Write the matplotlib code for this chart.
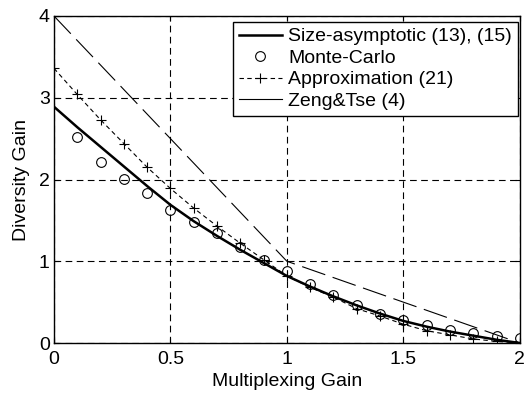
import numpy as np
import matplotlib.pyplot as plt

plt.rcParams['font.family'] = ['Liberation Sans', 'DejaVu Sans']

# multiplexing gain grid
r = [0.0, 0.1, 0.2, 0.3, 0.4, 0.5, 0.6, 0.7, 0.8, 0.9, 1.0,
     1.1, 1.2, 1.3, 1.4, 1.5, 1.6, 1.7, 1.8, 1.9, 2.0]

size_asym = [2.89, 2.64, 2.40, 2.16, 1.92, 1.69, 1.49, 1.31, 1.14, 0.98, 0.82,
             0.69, 0.57, 0.46, 0.36, 0.27, 0.20, 0.14, 0.09, 0.04, 0.0]

mc_r = [0.1, 0.2, 0.3, 0.4, 0.5, 0.6, 0.7, 0.8, 0.9, 1.0,
        1.1, 1.2, 1.3, 1.4, 1.5, 1.6, 1.7, 1.8, 1.9, 2.0]
monte_carlo = [2.52, 2.21, 2.01, 1.83, 1.63, 1.48, 1.34, 1.17, 1.02, 0.88,
               0.72, 0.59, 0.47, 0.36, 0.28, 0.22, 0.16, 0.12, 0.085, 0.06]

approx = [3.36, 3.04, 2.73, 2.44, 2.15, 1.89, 1.65, 1.43, 1.22, 1.02, 0.82,
          0.68, 0.56, 0.42, 0.33, 0.23, 0.15, 0.10, 0.05, 0.02, 0.0]

zt_r = [0, 1, 2]
zeng_tse = [4, 1, 0]

fig = plt.figure(figsize=(5.24, 3.94), dpi=100)
ax = fig.add_axes([0.103, 0.1294, 0.889, 0.830])

ax.plot(r, size_asym, '-', color='k', lw=1.8, label='Size-asymptotic (13), (15)')
ax.plot(mc_r, monte_carlo, 'o', color='k', mfc='none', ms=7, mew=0.8,
        label='Monte-Carlo')
ax.plot(r, approx, '--+', color='k', lw=0.8, ms=6.5, mew=0.8,
        dashes=(4, 3), label='Approximation (21)')
zt_line, = ax.plot(zt_r, zeng_tse, '-', color='k', lw=0.8, label='Zeng&Tse (4)')

ax.set_xlim(0, 2)
ax.set_ylim(0, 4)
ax.set_xticks([0, 0.5, 1, 1.5, 2])
ax.set_xticklabels(['0', '0.5', '1', '1.5', '2'])
ax.set_yticks([0, 1, 2, 3, 4])
ax.grid(True, color='k', linestyle=(0, (6, 4)), lw=0.8)
ax.tick_params(direction='in', top=True, right=True, labelsize=14)
ax.tick_params(axis='x', pad=6)
ax.tick_params(axis='y', pad=3)
for s in ax.spines.values():
    s.set_linewidth(1.0)

ax.set_xlabel('Multiplexing Gain', fontsize=14, labelpad=3)
ax.set_ylabel('Diversity Gain', fontsize=14, labelpad=6)

leg = ax.legend(loc='upper right', bbox_to_anchor=(0.996, 0.982),
                fontsize=14, frameon=True, fancybox=False,
                edgecolor='k', framealpha=1, borderpad=0.3, labelspacing=0.2,
                handlelength=2.2, handletextpad=0.35, borderaxespad=0)
leg.get_frame().set_linewidth(1.0)

# long-dash appearance of the Zeng&Tse curve in the plot area
zt_line.set_dashes((22, 7))
for h in leg.legend_handles:
    if h.get_label() == 'Zeng&Tse (4)':
        h.set_linestyle('-')

fig.savefig('out.png', dpi=100)
